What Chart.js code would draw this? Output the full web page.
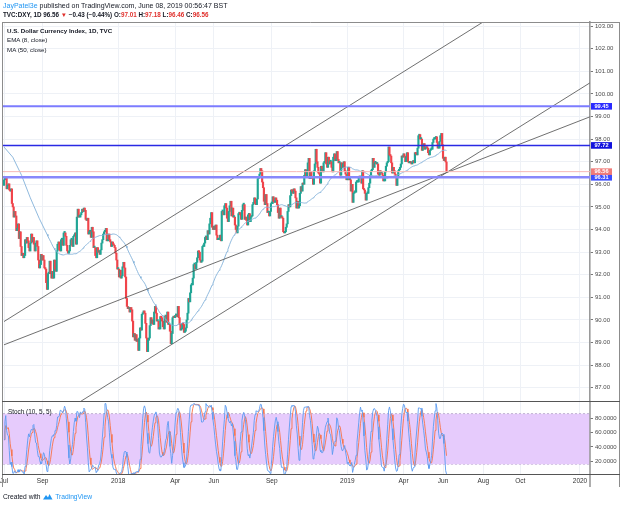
<!DOCTYPE html>
<html>
<head>
<meta charset="utf-8">
<script src="https://cdn.jsdelivr.net/npm/chart.js@4.4.1/dist/chart.umd.min.js"></script>
<style>
  body { margin: 0; width: 625px; height: 507px; overflow: hidden; background: #fff; position: relative;
         font-family: 'Liberation Sans', Arial, sans-serif; color: #131722; }
  .t { position: absolute; white-space: nowrap; line-height: 1; z-index: 2; }
  .red { color: #e0302c; }
  canvas { position: absolute; left: 0; }
</style>
</head>
<body>

<div class="t" style="left:3px;top:2px;font-size:7px"><span style="color:#2196f3">JayPatel3e</span> published on TradingView.com, June 08, 2019 00:56:47 BST</div>
<div class="t" style="left:3px;top:11.5px;font-size:6.3px;font-weight:bold">TVC:DXY, 1D 96.56 <span class="red">▼</span> −0.43 (−0.44%) O:<span class="red">97.01</span> H:<span class="red">97.18</span> L:<span class="red">96.46</span> C:<span class="red">96.56</span></div>

<div class="t" style="left:7px;top:27.5px;font-size:6.2px;font-weight:bold">U.S. Dollar Currency Index, 1D, TVC</div>
<div class="t" style="left:7px;top:37px;font-size:6.2px">EMA (8, close)</div>
<div class="t" style="left:7px;top:46.5px;font-size:6.2px">MA (50, close)</div>
<div class="t" style="left:8px;top:408.5px;font-size:6.4px">Stoch (10, 5, 5)</div>

<div class="t" style="left:3px;top:493px;font-size:6.7px">Created with
  <svg width="11" height="7" viewBox="0 0 11 7" style="vertical-align:-1px"><path d="M1 6.5 L4 2 L6 4.5 L7.5 1 L10.5 6.5 Z" fill="#2196f3"/></svg>
  <span style="color:#2196f3">TradingView</span></div>

<canvas id="main" width="625" height="402" style="top:0"></canvas>
<canvas id="stoch" width="625" height="105" style="top:402px"></canvas>

<script>
// daily closes, Jul 2017 .. Jun 7 2019 (one value per weekday)
const closes2017 = [
  96.20,96.25,96.28,95.80,95.95,96.02,95.75,95.70,95.80,95.15,95.00,94.55,94.80,94.60,93.95,94.05,94.25,93.60,93.90,93.25,92.85,
  92.95,92.75,92.85,93.55,93.40,93.65,93.50,93.20,93.05,93.40,93.80,93.45,93.65,93.35,93.05,93.40,93.50,93.25,92.65,92.30,92.45,92.90,92.65,
  92.85,92.65,92.30,92.25,91.65,91.35,92.05,92.05,92.60,92.05,91.85,92.15,91.85,92.65,92.25,92.15,93.05,93.35,93.45,93.10,93.05,
  93.55,93.55,93.30,93.85,93.85,93.70,93.30,93.05,92.95,93.05,93.30,93.55,93.55,93.25,93.70,93.75,93.85,93.35,94.55,94.90,94.55,94.55,
  94.65,94.75,94.90,94.80,94.95,94.85,94.45,94.40,94.50,93.80,93.90,93.90,93.65,94.10,93.90,93.20,93.20,92.85,92.75,93.20,93.00,93.05,
  92.90,93.10,93.40,93.55,93.80,93.90,93.90,94.05,93.50,93.50,93.80,93.55,93.45,93.25,93.45,93.35,93.30,93.20,92.95,92.65,92.25
];
const closes2018 = [
  92.25,91.90,92.20,91.85,91.95,92.35,92.55,92.30,91.90,90.95,90.60,90.50,90.55,90.35,90.55,90.45,89.95,89.25,89.40,89.10,89.35,89.05,89.15,
  88.65,89.20,89.65,89.55,90.25,90.30,90.40,90.30,89.85,89.20,88.60,89.10,89.20,89.75,90.10,89.85,90.00,89.80,90.35,90.60,
  90.30,89.95,89.95,89.60,89.60,90.15,90.10,89.95,89.70,89.60,90.15,90.20,89.90,90.35,89.80,89.80,89.50,88.95,89.40,90.10,90.15,90.10,
  90.20,90.20,90.15,90.60,90.10,89.80,89.55,89.60,89.85,89.80,89.45,89.50,89.65,90.00,90.30,90.95,90.80,91.20,91.55,91.55,91.85,
  92.45,92.45,92.25,92.55,92.75,93.05,93.00,92.65,92.55,92.60,93.25,93.25,93.40,93.65,93.70,93.55,93.95,93.80,94.25,94.50,94.75,94.10,94.00,
  94.15,94.00,94.20,93.75,93.55,93.55,93.60,93.75,93.50,94.80,94.80,94.65,95.05,95.15,94.95,94.50,94.35,94.80,95.05,95.25,94.60,
  94.95,94.55,94.55,94.20,94.00,93.85,94.15,94.70,94.75,94.65,94.45,94.85,95.10,95.10,94.45,94.55,94.40,94.20,94.65,94.70,94.35,94.55,
  94.60,95.10,95.20,95.40,95.15,95.10,95.35,96.25,96.35,96.45,96.70,96.60,96.10,95.85,95.25,95.10,95.55,95.15,94.75,94.75,94.60,94.80,95.15,
  95.15,95.45,95.25,95.20,95.40,95.30,95.10,94.75,94.50,94.95,94.55,94.55,94.50,93.90,93.85,93.90,94.10,94.25,94.80,95.10,
  95.00,95.50,95.75,95.70,95.60,95.80,95.70,95.40,94.95,95.25,94.95,95.05,95.60,95.90,95.70,96.05,96.00,96.40,96.65,96.35,96.60,96.95,97.15,
  96.25,96.55,96.35,96.25,96.00,96.60,96.90,97.55,97.00,96.75,96.50,96.45,96.05,96.80,96.70,96.55,96.95,97.00,97.40,96.90,96.75,97.20,
  96.90,97.00,97.00,96.75,96.55,97.20,97.35,97.05,97.05,97.45,97.10,96.95,96.95,96.40,96.95,96.75,96.90,97.00,96.60,96.45,96.20
];
const closes2019 = [
  96.20,96.75,96.20,96.20,95.70,96.00,95.20,95.60,95.65,95.65,96.10,96.10,96.10,96.35,96.30,96.35,96.05,96.60,95.80,95.75,95.60,95.30,95.60,
  95.60,95.85,96.05,96.40,96.60,96.65,97.15,96.75,96.95,96.95,96.90,96.90,96.45,96.40,96.60,96.50,96.50,96.40,96.15,96.15,
  96.55,96.80,96.95,97.00,97.65,97.30,97.25,96.95,96.50,96.75,96.60,96.45,96.35,95.95,96.30,96.60,96.65,96.75,96.90,97.25,97.20,
  97.35,97.25,97.00,97.20,97.40,97.00,96.95,96.95,97.00,96.90,96.95,97.05,96.95,97.40,97.35,97.30,97.60,98.15,98.20,98.00,98.00,97.50,
  97.70,97.80,97.55,97.60,97.65,97.60,97.40,97.30,97.50,97.55,97.55,97.85,98.00,98.00,98.05,98.10,97.85,97.60,97.60,97.90,98.15,98.25,97.75,
  97.15,97.05,97.20,96.99,96.56
];
const firstOpen = 95.95;

// MA(50) at the left edge (bar index, value)
const maStartIdx = [0, 10, 20, 30, 40];
const maStartVal = [97.65, 97.2, 96.4, 95.4, 94.5];

// price levels and trend lines
const levels = [99.45, 97.72, 96.31];
const lastPrice = 96.56;
const trendUpper = [[0, 89.93], [546, 103.19]];
const trendMid = [[0, 88.90], [667, 98.98]];
const trendLower = [[80, 86.22], [667, 100.48]];

// axes
const priceTicks = [87, 88, 89, 90, 91, 92, 93, 94, 95, 96, 97, 98, 99, 100, 101, 102, 103];
const stochTicks = [20, 40, 60, 80];
const stochBands = [86, 16];
const timeTickPos = [0, 44, 130, 195, 239, 305, 391, 455, 500, 546, 588, 656];
const timeTickLabels = ['Jul', 'Sep', '2018', 'Apr', 'Jun', 'Sep', '2019', 'Apr', 'Jun', 'Aug', 'Oct', '2020'];

const X_MIN = -1.14, X_MAX = 667.4;
const UP = '#20a595', DOWN = '#f0444a';
const GRID = '#eef1f6';
const FRAME = '#8c8c8c';

const closes = closes2017.concat(closes2018, closes2019);
const opens = closes.map((c, i) => i ? closes[i - 1] : firstOpen);
const candleData = closes.map((c, i) => ({ x: i, y: [opens[i], c] }));
const candleColors = closes.map((c, i) => c >= opens[i] ? UP : DOWN);

const avg = a => a.reduce((s, v) => s + v, 0) / a.length;
const maData = maStartIdx.map((x, k) => ({ x, y: maStartVal[k] }));
for (let i = 49; i < closes.length; i++) maData.push({ x: i, y: avg(closes.slice(i - 49, i + 1)) });

// Stoch (10, 5, 5)
const raw = closes.map((c, i) => {
  const w = closes.slice(Math.max(0, i - 9), i + 1);
  const hi = Math.max(...w), lo = Math.min(...w);
  return hi > lo ? (c - lo) / (hi - lo) * 100 : 50;
});
const sma = (a, n) => a.map((_, i) => avg(a.slice(Math.max(0, i - n + 1), i + 1)));
const kLine = sma(raw, 5);
const dLine = sma(kLine, 5);

const seg = (pts) => pts.map(p => ({ x: p[0], y: p[1] }));
const flat = (v) => [{ x: X_MIN, y: v }, { x: X_MAX, y: v }];
const lineDs = (data, color, width, order, extra) => Object.assign({
  type: 'line', data, borderColor: color, borderWidth: width, pointRadius: 0, tension: 0, order
}, extra || {});

const xBase = {
  type: 'linear', min: X_MIN, max: X_MAX, offset: false,
  afterBuildTicks: s => { s.ticks = timeTickPos.map(v => ({ value: v })); },
  grid: { color: GRID, tickLength: 0, offset: false },
  border: { display: false }
};

// price boxes on the right axis + frame
const mainDecor = {
  id: 'mainDecor',
  afterDraw(chart) {
    const { ctx, chartArea: a, scales: { y } } = chart;
    ctx.save();
    ctx.strokeStyle = FRAME; ctx.lineWidth = 1;
    ctx.beginPath();
    ctx.moveTo(2, a.top + 0.5); ctx.lineTo(619.5, a.top + 0.5);
    ctx.moveTo(2.5, a.top); ctx.lineTo(2.5, a.bottom);
    ctx.moveTo(619.5, a.top); ctx.lineTo(619.5, a.bottom);
    ctx.stroke();
    ctx.strokeStyle = '#555';
    ctx.beginPath(); ctx.moveTo(2, a.bottom - 0.5); ctx.lineTo(620, a.bottom - 0.5); ctx.stroke();

    const boxes = [[96.31, '#3b4cff'], [99.45, '#2a2aff'], [97.72, '#1212dd'], [lastPrice, '#f07b78']];
    ctx.font = 'bold 5.6px "Liberation Sans", Arial, sans-serif';
    ctx.textAlign = 'center'; ctx.textBaseline = 'middle';
    boxes.forEach(([v, col]) => {
      const py = y.getPixelForValue(v);
      ctx.fillStyle = col;
      ctx.fillRect(a.right + 1, py - 3.3, 21, 6.6);
      ctx.fillStyle = '#fff';
      ctx.fillText(v.toFixed(2), a.right + 11.5, py + 0.3);
    });
    ctx.restore();
  }
};

new Chart(document.getElementById('main'), {
  type: 'bar',
  data: {
    datasets: [
      { type: 'bar', data: candleData, backgroundColor: candleColors, barThickness: 1.5, minBarLength: 1.5, grouped: false, order: 9 },
      lineDs(maData, '#82b1d9', 0.9, 8),
      lineDs(seg(trendUpper), '#4b4b4b', 0.8, 7),
      lineDs(seg(trendMid), '#4b4b4b', 0.8, 7),
      lineDs(seg(trendLower), '#4b4b4b', 0.8, 7),
      lineDs(flat(lastPrice), '#f6b9b6', 1, 6),
      lineDs(flat(levels[0]), '#7c7cff', 2, 5),
      lineDs(flat(levels[1]), '#2a2ae4', 1.6, 5),
      lineDs(flat(levels[2]), '#8888fb', 2.6, 5)
    ]
  },
  options: {
    responsive: false, animation: false, events: [],
    layout: { padding: { top: 22, left: 3, right: 0, bottom: 0 } },
    plugins: { legend: { display: false }, tooltip: { enabled: false } },
    scales: {
      x: Object.assign({}, xBase, {
        ticks: { display: false },
        afterFit: s => { s.height = 0; s.paddingLeft = 0; s.paddingRight = 0; }
      }),
      y: {
        type: 'linear', position: 'right', min: 86.37, max: 103.18,
        afterBuildTicks: s => { s.ticks = priceTicks.map(v => ({ value: v })); },
        afterFit: s => { s.width = 35; s.paddingTop = 0; s.paddingBottom = 0; },
        ticks: { callback: v => v.toFixed(2), color: '#4a4a4a', padding: 2, font: { size: 6, family: 'Liberation Sans' } },
        grid: { color: GRID, tickLength: 3, tickColor: '#777' },
        border: { color: '#9a9a9a', width: 1.6 }
      }
    }
  },
  plugins: [mainDecor]
});

const stochDecor = {
  id: 'stochDecor',
  afterDraw(chart) {
    const { ctx, chartArea: a } = chart;
    ctx.save();
    ctx.strokeStyle = FRAME; ctx.lineWidth = 1;
    ctx.beginPath();
    ctx.moveTo(2.5, 0); ctx.lineTo(2.5, 85);
    ctx.moveTo(619.5, 0); ctx.lineTo(619.5, 85);
    ctx.stroke();
    ctx.strokeStyle = '#9a9a9a'; ctx.lineWidth = 1.6;
    ctx.beginPath(); ctx.moveTo(a.right, 0); ctx.lineTo(a.right, 85); ctx.stroke();
    ctx.strokeStyle = '#555'; ctx.lineWidth = 1;
    ctx.beginPath(); ctx.moveTo(2, a.bottom + 0.5); ctx.lineTo(620, a.bottom + 0.5); ctx.stroke();
    ctx.restore();
  }
};

new Chart(document.getElementById('stoch'), {
  type: 'line',
  data: {
    datasets: [
      lineDs(flat(stochBands[0]), '#b3a3c8', 0.8, 9, { fill: '+1', backgroundColor: '#e6cbfc', borderDash: [2, 2] }),
      lineDs(flat(stochBands[1]), '#b3a3c8', 0.8, 9, { borderDash: [2, 2] }),
      lineDs(dLine.map((v, i) => ({ x: i, y: v })), '#f7734a', 0.9, 2),
      lineDs(kLine.map((v, i) => ({ x: i, y: v })), '#5b9bf0', 0.9, 1)
    ]
  },
  options: {
    responsive: false, animation: false, events: [],
    layout: { padding: { top: 0, left: 3, right: 0, bottom: 19 } },
    plugins: { legend: { display: false }, tooltip: { enabled: false } },
    scales: {
      x: Object.assign({}, xBase, {
        ticks: {
          autoSkip: false, maxRotation: 0, padding: 3, color: '#333',
          font: { size: 6.5, family: 'Liberation Sans' },
          callback: (v, idx) => timeTickLabels[idx]
        },
        afterFit: s => { s.height = 14; s.paddingLeft = 0; s.paddingRight = 0; }
      }),
      y: {
        type: 'linear', position: 'right', min: 2.4, max: 102.2,
        afterBuildTicks: s => { s.ticks = stochTicks.map(v => ({ value: v })); },
        afterFit: s => { s.width = 35; s.paddingTop = 0; s.paddingBottom = 0; },
        ticks: { callback: v => v.toFixed(4), color: '#4a4a4a', padding: 2, font: { size: 6, family: 'Liberation Sans' } },
        grid: { color: 'rgba(120,120,160,0.12)', tickLength: 3, tickColor: '#777' },
        border: { display: false }
      }
    }
  },
  plugins: [stochDecor]
});
</script>
</body>
</html>
